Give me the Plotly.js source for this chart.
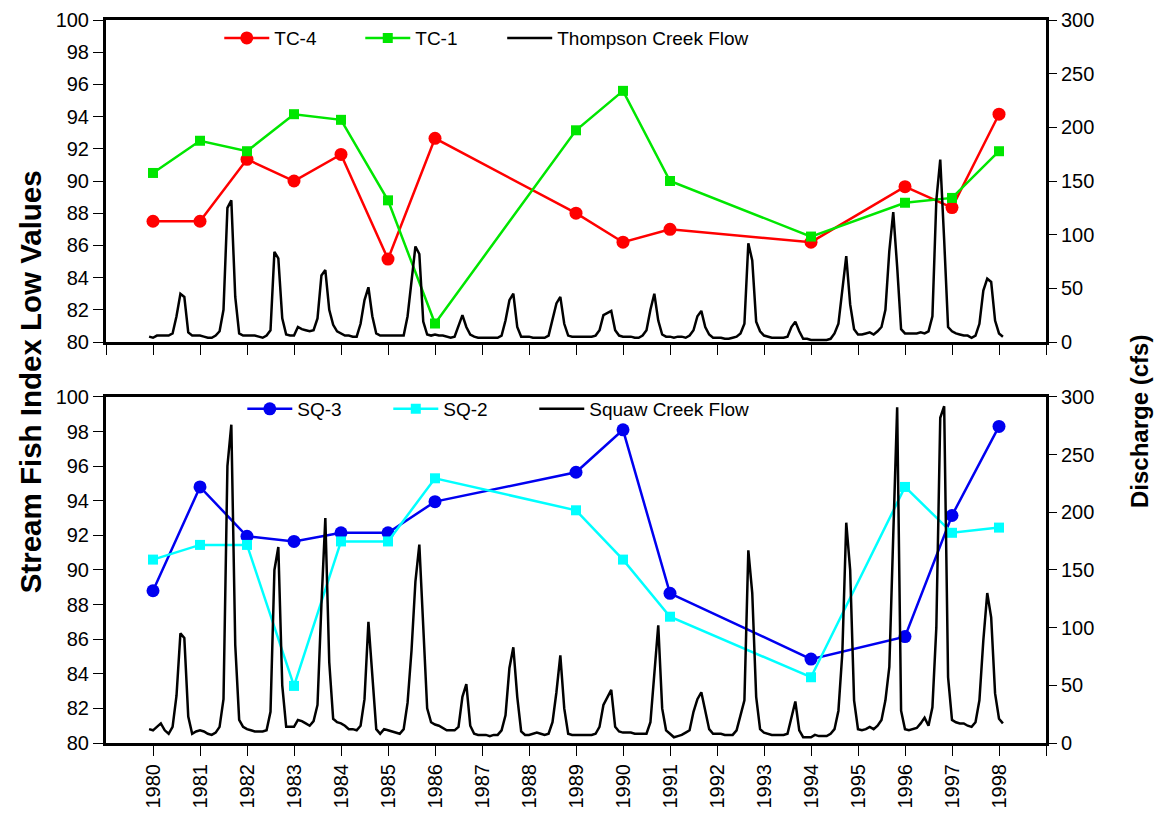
<!DOCTYPE html>
<html>
<head>
<meta charset="utf-8">
<script src="https://cdn.plot.ly/plotly-3.0.1.min.js"></script>
<style>html,body{margin:0;padding:0;background:#fff;}#chart{width:1157px;height:814px;}</style>
</head>
<body>
<div id="chart"></div>
<script>
// ---- Fish index sample years and values ----
const years = [1980,1981,1982,1983,1984,1985,1986,1989,1990,1991,1994,1996,1997,1998];
const tc4 = [87.5,87.5,91.35,90.0,91.65,85.15,92.65,88.0,86.2,87.0,86.2,89.65,88.35,94.15];
const tc1 = [90.5,92.5,91.85,94.15,93.8,88.8,81.15,93.15,95.6,90.0,86.55,88.65,88.95,91.85];
const sq3 = [88.8,94.8,91.95,91.65,92.15,92.15,93.95,95.65,98.1,88.65,84.85,86.15,93.15,98.3];
const sq2 = [90.6,91.45,91.45,83.3,91.65,91.65,95.3,93.45,90.6,87.3,83.8,94.8,92.15,92.45];

// ---- Monthly discharge (cfs), first value at late 1979, monthly steps ----
const flowStartYear = 1979;
const flowStartMonth = 11; // 0-based month index of first value
const thompsonFlow = [
  5,
  4,6,6,6,6,8,24,45,42,9,6,6,
  6,5,4,4,6,10,30,125,132,42,8,6,
  6,6,6,5,4,6,11,84,78,22,7,6,
  6,14,12,11,10,11,22,62,67,30,16,10,
  8,6,6,5,5,17,39,51,24,8,6,6,
  6,6,6,6,6,24,58,89,82,19,7,6,
  7,6,6,5,4,5,16,25,14,7,5,4,
  4,4,4,4,4,6,20,39,45,14,5,5,
  5,4,4,4,4,6,20,36,42,17,6,5,
  5,5,5,5,5,6,11,25,27,29,11,6,
  5,5,5,4,4,6,11,30,45,20,7,5,
  5,4,5,5,4,6,11,24,29,14,7,4,
  4,4,3,3,4,5,8,17,92,76,19,10,
  6,5,4,4,4,4,5,14,19,10,3,3,
  2,2,2,2,2,3,8,17,50,80,35,12,
  7,7,8,9,7,10,14,30,85,121,70,12,
  8,8,8,8,9,8,10,24,132,170,95,14,
  10,8,7,6,6,4,6,17,48,59,56,20,
  8,5
];
const squawFlow = [
  12,
  11,14,17,11,8,14,41,95,91,23,8,10,
  11,10,8,7,9,14,38,240,276,85,20,14,
  12,11,10,10,10,11,27,150,170,50,14,14,
  14,20,19,17,15,19,33,120,195,70,21,18,
  17,15,12,12,11,15,38,105,55,12,8,12,
  11,10,9,8,12,35,80,140,172,100,30,18,
  16,15,13,11,11,11,14,40,51,15,8,7,
  7,7,6,7,7,11,24,65,83,40,10,7,
  7,8,9,8,7,8,18,44,76,30,8,7,
  7,7,7,7,7,8,14,33,39,46,14,10,
  9,9,9,8,8,8,8,18,62,102,30,11,
  8,5,6,7,9,11,27,38,44,27,12,8,
  8,8,7,7,7,11,23,37,167,130,40,12,
  9,8,7,7,7,7,8,23,36,11,5,5,
  5,7,6,6,6,8,12,28,78,191,150,37,
  12,11,12,14,12,15,20,37,66,180,291,28,
  12,11,12,13,17,22,15,31,100,282,292,57,
  20,18,17,17,15,14,18,37,89,130,109,43,
  21,17
];
const yearTicks = [1980,1981,1982,1983,1984,1985,1986,1987,1988,1989,1990,1991,1992,1993,1994,1995,1996,1997,1998];

function monthX(n){ const out=[]; for(let i=0;i<n;i++){ out.push(flowStartYear + (flowStartMonth + i)/12); } return out; }
const flowXTop = monthX(thompsonFlow.length);
const flowXBot = monthX(squawFlow.length);

const FONT = 'Arial, "Liberation Sans", sans-serif';

const traces = [
  {x: years, y: tc4, name: 'TC-4', type: 'scatter', mode: 'lines+markers', xaxis: 'x', yaxis: 'y',
   line: {color: '#FF0000', width: 2.5}, marker: {symbol: 'circle', size: 13, color: '#FF0000'}, legend: 'legend'},
  {x: years, y: tc1, name: 'TC-1', type: 'scatter', mode: 'lines+markers', xaxis: 'x', yaxis: 'y',
   line: {color: '#00E600', width: 2.5}, marker: {symbol: 'square', size: 10, color: '#00E600'}, legend: 'legend3'},
  {x: flowXTop, y: thompsonFlow, name: 'Thompson Creek Flow', type: 'scatter', mode: 'lines', xaxis: 'x', yaxis: 'y3',
   line: {color: '#000000', width: 2.5}, legend: 'legend4'},
  {x: years, y: sq3, name: 'SQ-3', type: 'scatter', mode: 'lines+markers', xaxis: 'x2', yaxis: 'y2',
   line: {color: '#0000F0', width: 2.5}, marker: {symbol: 'circle', size: 13, color: '#0000F0'}, legend: 'legend2'},
  {x: years, y: sq2, name: 'SQ-2', type: 'scatter', mode: 'lines+markers', xaxis: 'x2', yaxis: 'y2',
   line: {color: '#00FFFF', width: 2.5}, marker: {symbol: 'square', size: 10, color: '#00FFFF'}, legend: 'legend5'},
  {x: flowXBot, y: squawFlow, name: 'Squaw Creek Flow', type: 'scatter', mode: 'lines', xaxis: 'x2', yaxis: 'y4',
   line: {color: '#000000', width: 2.5}, legend: 'legend6'}
];

const tickFont = {family: FONT, size: 20, color: '#000'};
const baseX = {range: [1979, 1999], showgrid: false, zeroline: false, showline: true, linecolor: '#000', linewidth: 3,
  mirror: true, ticks: 'outside', ticklen: 10, tickwidth: 1, tickcolor: '#000', tickfont: tickFont};
const baseYL = {range: [80, 100], tickmode: 'array', tickvals: [80,82,84,86,88,90,92,94,96,98,100],
  showgrid: false, zeroline: false, showline: true, linecolor: '#000', linewidth: 3, mirror: true,
  ticks: 'outside', ticklen: 10, tickwidth: 1, tickcolor: '#000', tickfont: tickFont};
const baseYR = {range: [0, 300], tickmode: 'array', tickvals: [0,50,100,150,200,250,300], side: 'right',
  showgrid: false, zeroline: false, showline: true, linecolor: '#000', linewidth: 3,
  ticks: 'outside', ticklen: 8, tickwidth: 1, tickcolor: '#000', tickfont: tickFont};

const topDom = [0.5546, 1];
const botDom = [0, 0.4786];

function leg(xp, yp){
  return {orientation: 'h', x: xp, xanchor: 'left', y: yp, yanchor: 'middle', itemwidth: 45,
    font: {family: FONT, size: 19}, bgcolor: 'rgba(0,0,0,0)', borderwidth: 0};
}

const layout = {
  width: 1157, height: 814,
  margin: {l: 106, r: 111, t: 20, b: 71},
  paper_bgcolor: '#fff', plot_bgcolor: '#fff',
  font: {family: FONT, color: '#000'},
  xaxis: Object.assign({}, baseX, {domain: [0,1], anchor: 'y', tickmode: 'array',
    tickvals: [1979].concat(yearTicks, [1999]), showticklabels: false}),
  xaxis2: Object.assign({}, baseX, {domain: [0,1], anchor: 'y2', tickmode: 'array',
    tickvals: yearTicks.concat([1999]), ticktext: yearTicks.map(String).concat(['']), tickangle: -90}),
  yaxis: Object.assign({}, baseYL, {domain: topDom, anchor: 'x'}),
  yaxis2: Object.assign({}, baseYL, {domain: botDom, anchor: 'x2'}),
  yaxis3: Object.assign({}, baseYR, {overlaying: 'y', anchor: 'x'}),
  yaxis4: Object.assign({}, baseYR, {overlaying: 'y2', anchor: 'x2'}),
  showlegend: true,
  legend: leg(0.1205, 0.975),
  legend3: leg(0.2705, 0.975),
  legend4: leg(0.4215, 0.975),
  legend2: leg(0.145, 0.462),
  legend5: leg(0.3003, 0.462),
  legend6: leg(0.4556, 0.462),
  annotations: [
    {text: '<b>Stream Fish Index Low Values</b>', xref: 'paper', yref: 'paper', x: -0.08, y: 0.5,
     xanchor: 'center', yanchor: 'middle', textangle: -90, showarrow: false, font: {family: FONT, size: 29.5}},
    {text: '<b>Discharge (cfs)</b>', xref: 'paper', yref: 'paper', x: 1.1, y: 0.444,
     xanchor: 'center', yanchor: 'middle', textangle: -90, showarrow: false, font: {family: FONT, size: 24}}
  ]
};

Plotly.newPlot('chart', traces, layout, {displayModeBar: false, responsive: false});
</script>
</body>
</html>
